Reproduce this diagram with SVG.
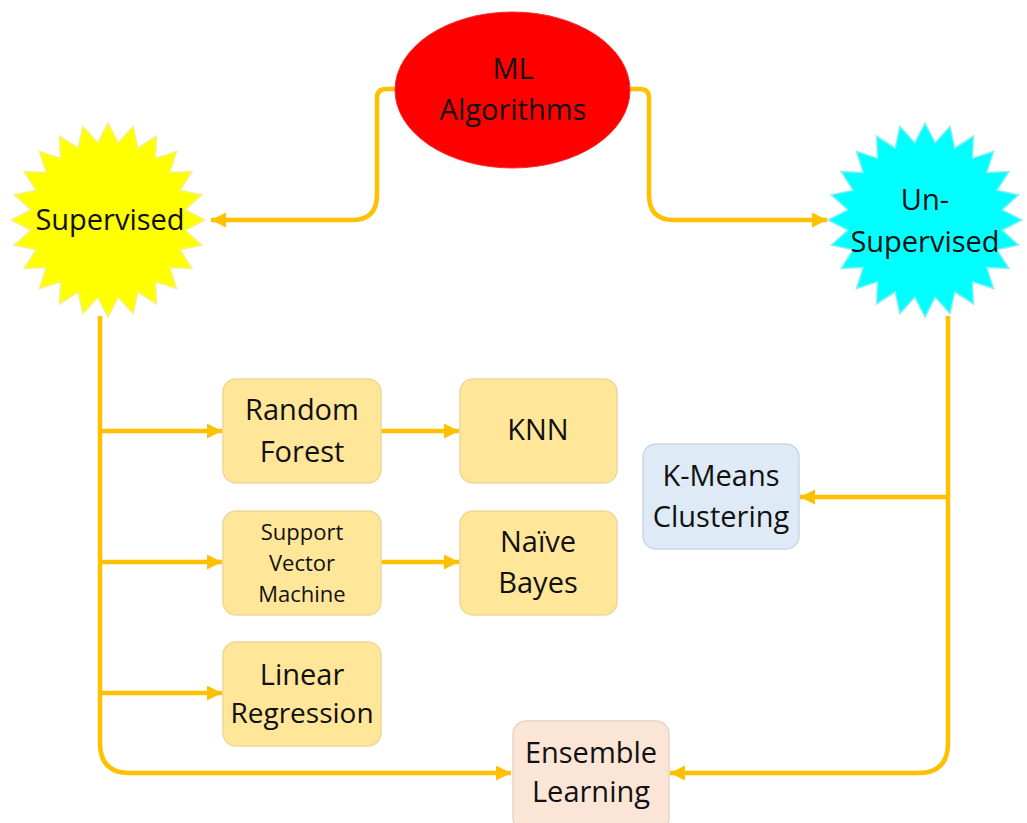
<svg xmlns="http://www.w3.org/2000/svg" xmlns:xlink="http://www.w3.org/1999/xlink" width="1027" height="823" viewBox="0 0 1027 823">
<style>
  .t{font-family:"Open Sans","Noto Sans","DejaVu Sans",sans-serif;font-size:29px;fill:#111111;text-anchor:middle}
  .ts{font-size:22px}
  .conn{fill:none;stroke:#FFC000;stroke-width:4.5;stroke-linejoin:round}
  .yb{fill:#FFE699;stroke:#EFD896;stroke-width:1.5}
  .bb{fill:#DEEBF7;stroke:#CAD7E4;stroke-width:1.5}
  .pb{fill:#FBE5D6;stroke:#EAD4C5;stroke-width:1.5}
</style>
<defs>
  <marker id="ah" markerUnits="userSpaceOnUse" markerWidth="18" markerHeight="16" refX="15" refY="7.5" orient="auto">
    <path d="M0,0 L15,7.5 L0,15 z" fill="#FFC000"/>
  </marker>
  <polygon id="star" points="0,-97 10.18,-77.33 25.11,-93.7 29.85,-72.06 48.5,-84 47.48,-61.88 68.59,-68.59 61.88,-47.48 84,-48.5 72.06,-29.85 93.7,-25.11 77.33,-10.18 97,0 77.33,10.18 93.7,25.11 72.06,29.85 84,48.5 61.88,47.48 68.59,68.59 47.48,61.88 48.5,84 29.85,72.06 25.11,93.7 10.18,77.33 0,97 -10.18,77.33 -25.11,93.7 -29.85,72.06 -48.5,84 -47.48,61.88 -68.59,68.59 -61.88,47.48 -84,48.5 -72.06,29.85 -93.7,25.11 -77.33,10.18 -97,0 -77.33,-10.18 -93.7,-25.11 -72.06,-29.85 -84,-48.5 -61.88,-47.48 -68.59,-68.59 -47.48,-61.88 -48.5,-84 -29.85,-72.06 -25.11,-93.7 -10.18,-77.33"/>
</defs>
<rect width="1027" height="823" fill="#ffffff"/>

<g id="connectors">
  <path class="conn" d="M395,89 H386 Q377,89 377,98 V195 Q377,220 352,220 H211" marker-end="url(#ah)"/>
  <path class="conn" d="M630,89 H640 Q649,89 649,98 V195 Q649,220 674,220 H827" marker-end="url(#ah)"/>
  <path class="conn" d="M100,316 V743 Q100,773 130,773 H511" marker-end="url(#ah)"/>
  <path class="conn" d="M100,431 H222" marker-end="url(#ah)"/>
  <path class="conn" d="M100,562 H222" marker-end="url(#ah)"/>
  <path class="conn" d="M100,693 H222" marker-end="url(#ah)"/>
  <path class="conn" d="M381,431 H459" marker-end="url(#ah)"/>
  <path class="conn" d="M381,562 H459" marker-end="url(#ah)"/>
  <path class="conn" d="M948,316 V743 Q948,773 918,773 H670" marker-end="url(#ah)"/>
  <path class="conn" d="M948,497 H800" marker-end="url(#ah)"/>
</g>

<g id="ml">
  <ellipse cx="512.5" cy="90" rx="117.5" ry="78" fill="#FF0000" stroke="#F03030" stroke-width="1"/>
  <text class="t" x="513" y="79">ML</text>
  <text class="t" x="513" y="120">Algorithms</text>
</g>

<g id="supervised">
  <use xlink:href="#star" href="#star" transform="translate(108,220)" fill="#FFFF00" stroke="#F4F08A" stroke-width="1.5"/>
  <text class="t" x="110" y="230">Supervised</text>
</g>

<g id="unsupervised">
  <use xlink:href="#star" href="#star" transform="translate(925,220)" fill="#00FFFF" stroke="#8AEFF0" stroke-width="1.5"/>
  <text class="t" x="925" y="210">Un-</text>
  <text class="t" x="925" y="252">Supervised</text>
</g>

<g id="random-forest">
  <rect class="yb" x="223" y="379" width="158" height="104" rx="13"/>
  <text class="t" x="302" y="420">Random</text>
  <text class="t" x="302" y="462">Forest</text>
</g>

<g id="knn">
  <rect class="yb" x="460" y="379" width="157" height="104" rx="13"/>
  <text class="t" x="538" y="440">KNN</text>
</g>

<g id="svm">
  <rect class="yb" x="223" y="511" width="158" height="104" rx="13"/>
  <text class="t ts" x="302" y="540">Support</text>
  <text class="t ts" x="302" y="571">Vector</text>
  <text class="t ts" x="302" y="602">Machine</text>
</g>

<g id="naive-bayes">
  <rect class="yb" x="460" y="511" width="157" height="104" rx="13"/>
  <text class="t" x="538" y="552">Naïve</text>
  <text class="t" x="538" y="593">Bayes</text>
</g>

<g id="linear-regression">
  <rect class="yb" x="223" y="642" width="158" height="104" rx="13"/>
  <text class="t" x="302" y="685">Linear</text>
  <text class="t" x="302" y="723" style="font-size:28px">Regression</text>
</g>

<g id="kmeans">
  <rect class="bb" x="643" y="444" width="156" height="105" rx="13"/>
  <text class="t" x="721" y="486">K-Means</text>
  <text class="t" x="721" y="527">Clustering</text>
</g>

<g id="ensemble">
  <rect class="pb" x="513" y="721" width="156" height="110" rx="13"/>
  <text class="t" x="591" y="763">Ensemble</text>
  <text class="t" x="591" y="802">Learning</text>
</g>
</svg>
